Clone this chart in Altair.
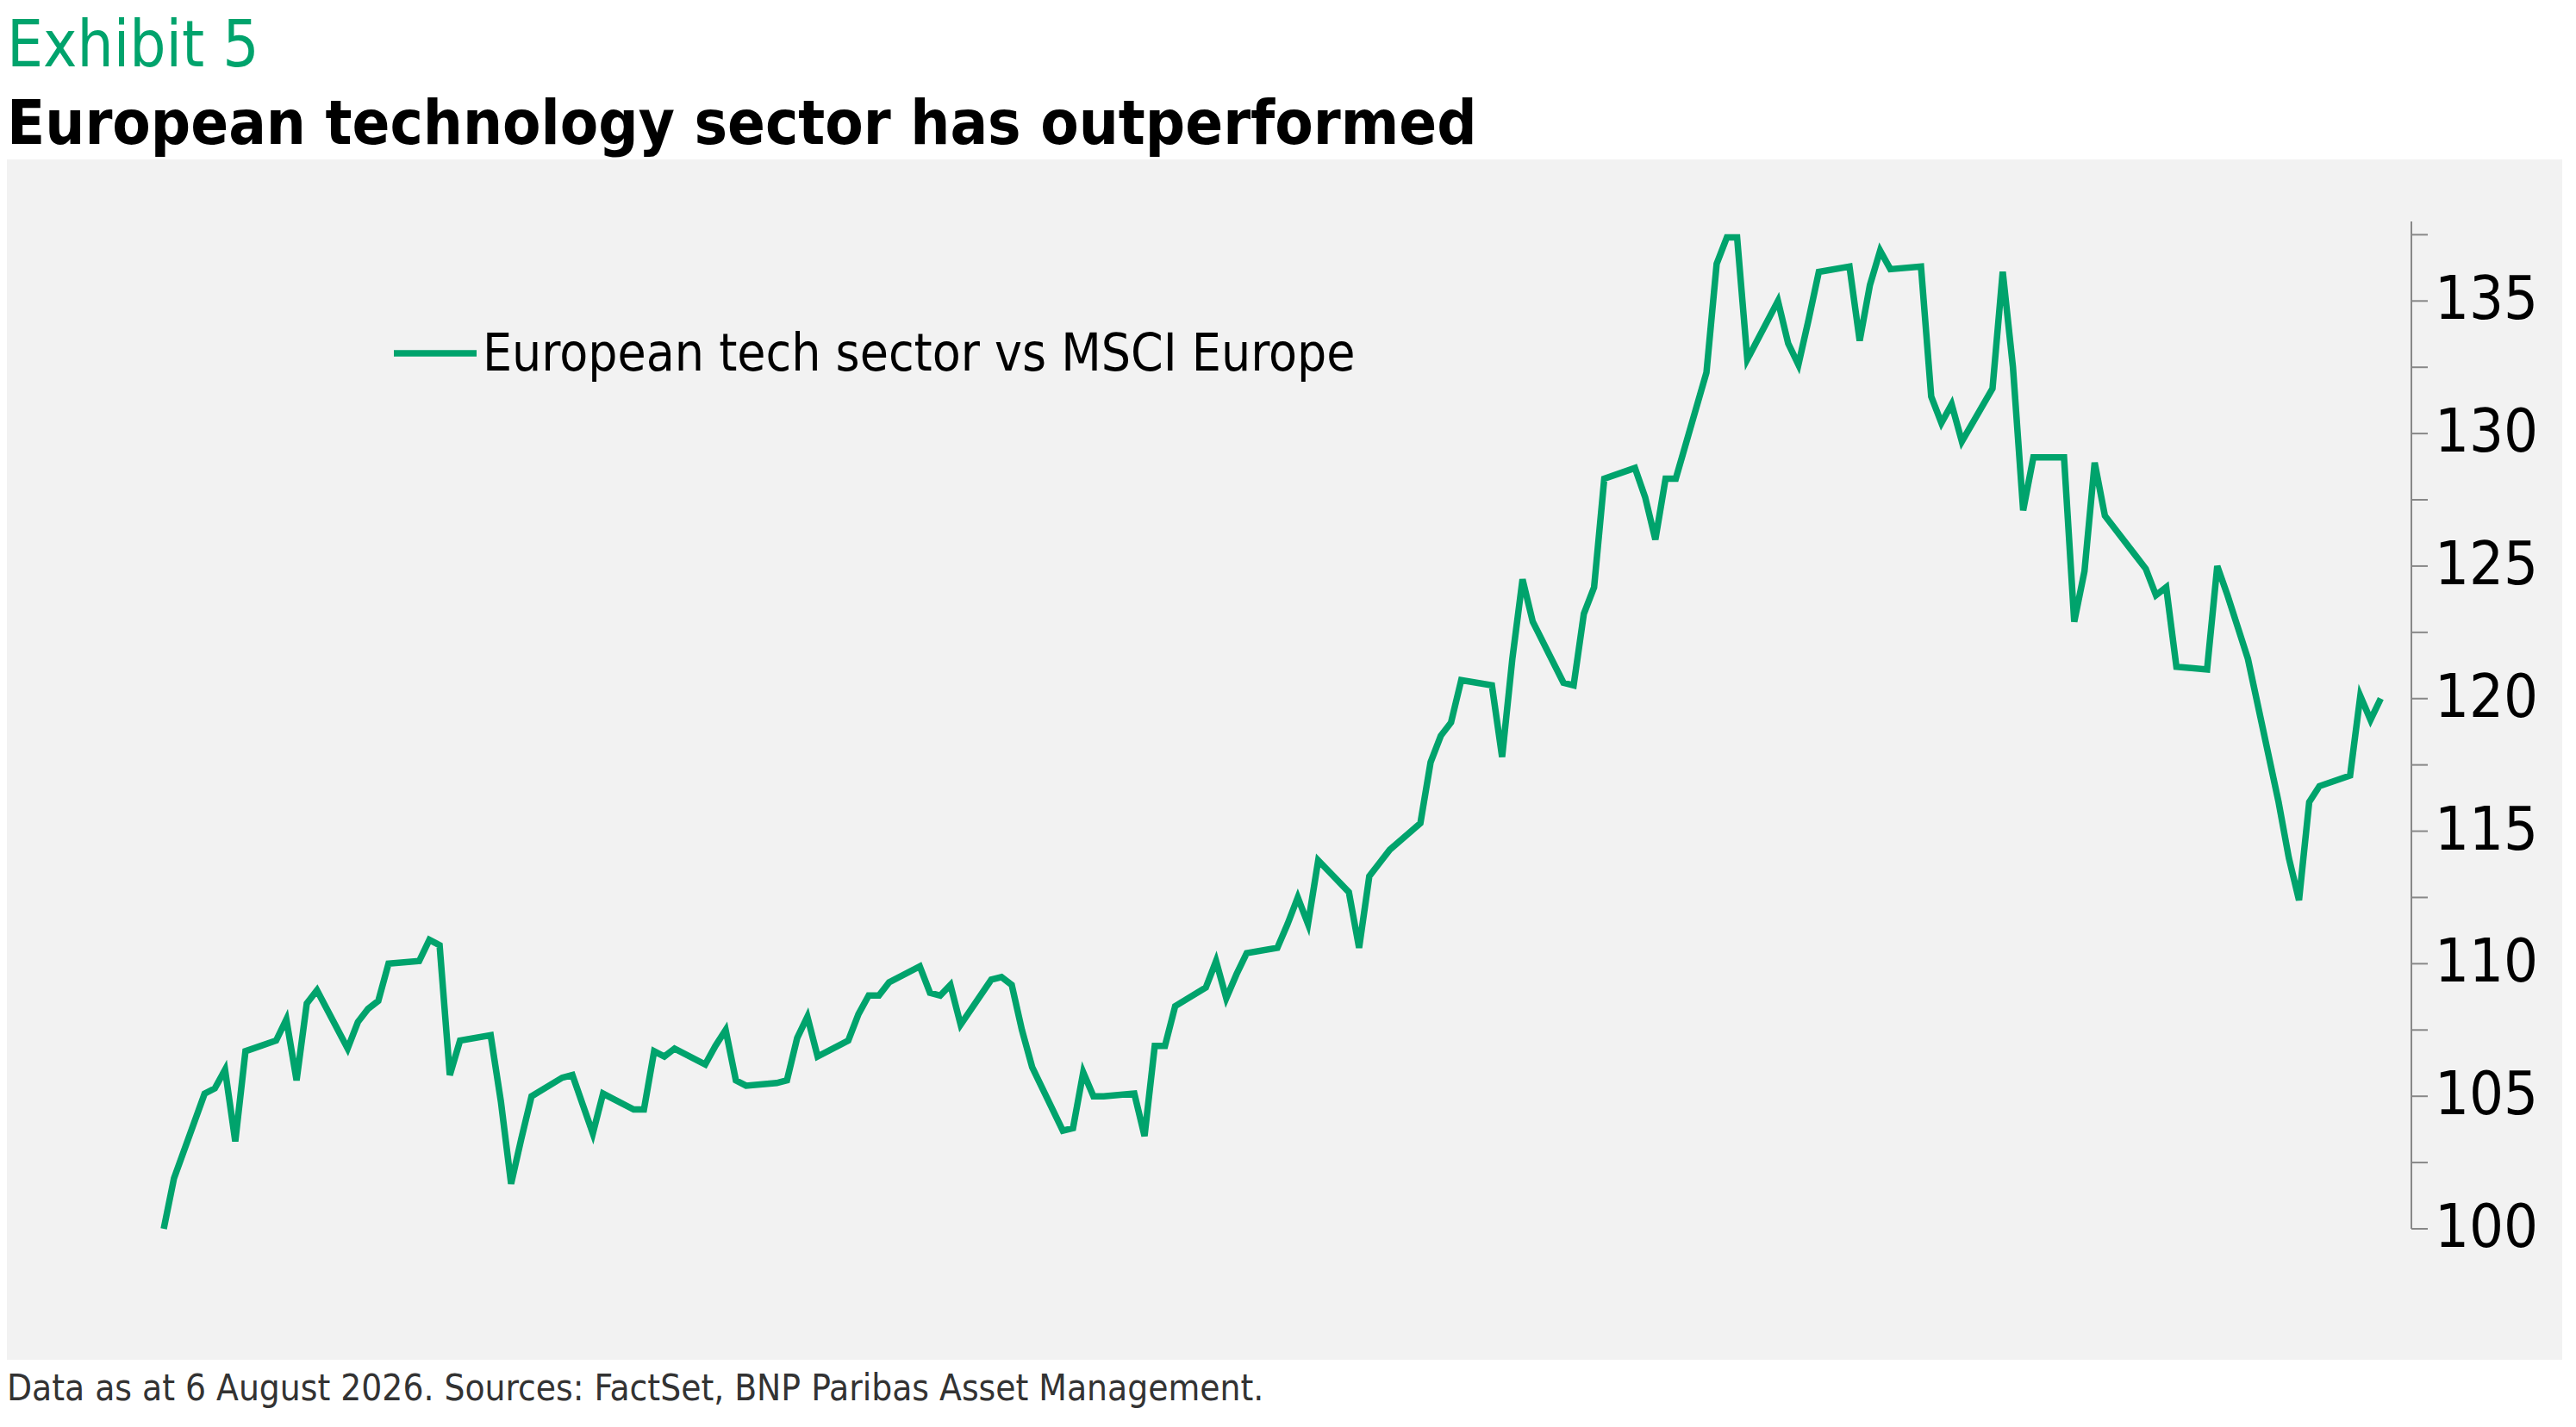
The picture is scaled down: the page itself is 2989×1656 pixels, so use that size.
import altair as alt
import pandas as pd

values = [100.0,101.9,105.1,105.3,106.0,103.3,106.7,107.1,107.9,105.6,108.5,109.0,106.8,107.8,108.3,108.6,110.0,110.1,110.9,110.7,105.8,107.1,107.3,
104.8,101.7,103.4,105.0,105.7,105.8,104.7,103.6,105.1,104.5,104.5,106.7,106.5,106.8,106.2,106.9,107.5,105.6,105.4,105.5,105.6,
107.2,108.0,106.5,107.1,108.1,108.8,108.8,109.3,109.9,108.9,108.8,109.2,107.7,109.4,109.5,109.2,107.5,106.1,103.7,103.8,105.9,105.0,
105.0,105.1,103.5,106.9,106.9,108.4,109.1,110.1,108.7,109.6,110.4,110.6,111.5,112.5,111.5,113.9,112.7,110.6,113.3,113.8,114.3,115.3,
117.6,118.6,119.1,120.7,120.5,117.8,121.5,124.5,122.9,120.6,120.5,123.2,124.2,128.3,128.7,127.6,126.0,128.3,128.3,132.3,136.4,137.4,
137.4,132.8,135.0,133.4,132.6,134.3,136.1,136.3,133.5,135.6,136.9,136.2,136.3,131.4,130.4,131.1,129.7,131.7,136.1,132.5,127.1,129.1,
129.1,122.9,124.8,128.9,126.9,125.4,124.9,123.9,124.2,121.2,121.1,125.0,123.9,122.7,121.5,116.1,114.0,112.4,116.1,116.7,117.1,120.1,
119.2,120.0]
dates = pd.bdate_range("2026-01-01", periods=len(values))
df = pd.DataFrame({"date": dates, "value": values})

series_name = "European tech sector vs MSCI Europe"
exhibit = "Exhibit 5"
title = "European technology sector has outperformed"
footer = "Data as at 6 August 2026. Sources: FactSet, BNP Paribas Asset Management."

FONT = "DejaVu Sans Condensed, DejaVu Sans, sans-serif"
GREEN = "#00A36C"
GRAY = "#888888"
W, H = 2608, 1169

tick_dates = []
for m in range(1, 9):
    tick_dates.append(alt.DateTime(year=2026, month=m, date=1))
    if m < 8:
        tick_dates.append(alt.DateTime(year=2026, month=m, date=16))
ytv = [100 + 2.5 * i for i in range(16)]
ydom = alt.Scale(domain=[100, 138], nice=False, zero=False)
xdom = alt.Scale(domain=[alt.DateTime(year=2026, month=1, date=1), alt.DateTime(year=2026, month=8, date=9)], nice=False)

base = alt.Chart(df)
bg = base.mark_rect(color="#F2F2F2", clip=False).encode(
    x=alt.value(-182), x2=alt.value(2791), y=alt.value(-72), y2=alt.value(1321))

line = base.mark_line(color=GREEN, strokeWidth=7.5).encode(
    x=alt.X("date:T", scale=xdom, axis=alt.Axis(values=tick_dates, grid=False,
        labelExpr="date(datum.value) == 1 ? timeFormat(datum.value, '%b %y') : ''",
        domainColor=GRAY, tickColor=GRAY, tickSize=19, tickWidth=2, domainWidth=2,
        labelFont=FONT, labelFontSize=70, labelColor="#000", labelPadding=12, title=None, labelFlush=False)),
    y=alt.Y("value:Q", scale=ydom, axis=alt.Axis(orient="left", values=ytv,
        labelExpr="datum.value % 5 == 0 ? datum.value : ''", grid=False,
        domainColor=GRAY, tickColor=GRAY, tickSize=19, tickWidth=2, domainWidth=2,
        labelFont=FONT, labelFontSize=70, labelColor="#000", labelPadding=8, title=None)))

ydf = pd.DataFrame({"v": ytv, "lab": [str(int(v)) if v % 5 == 0 else "" for v in ytv]})
rdomain = alt.Chart(pd.DataFrame({"k": [0]})).mark_rule(color=GRAY, strokeWidth=2).encode(
    x=alt.value(W), y=alt.value(0), y2=alt.value(H))
rticks = alt.Chart(ydf).mark_rule(color=GRAY, strokeWidth=2).encode(
    y=alt.Y("v:Q", scale=ydom), x=alt.value(W), x2=alt.value(W + 19))
rlabels = alt.Chart(ydf).mark_text(align="left", baseline="middle", font=FONT, fontSize=70, color="#000").encode(
    y=alt.Y("v:Q", scale=ydom), x=alt.value(W + 27), text="lab:N")

leg_line = alt.Chart(pd.DataFrame({"k": [0]})).mark_rule(color=GREEN, strokeWidth=7.5).encode(
    x=alt.value(267), x2=alt.value(363), y=alt.value(153))

def txt(s, x, y, size, color="#000", weight="normal"):
    return alt.Chart(pd.DataFrame({"t": [s]})).mark_text(
        align="left", baseline="alphabetic", font=FONT, fontSize=size, color=color, fontWeight=weight
    ).encode(text="t:N", x=alt.value(x), y=alt.value(y))

chart = alt.layer(
    bg, line, rdomain, rticks, rlabels, leg_line,
    txt(series_name, 370, 173, 60),
    txt(exhibit, -182, -180, 74, GREEN),
    txt(title, -182, -90, 72, "#000", "bold"),
    txt(footer, -182, 1368, 42, "#333"),
).properties(
    width=W, height=H, background="white",
    padding={"left": 182, "top": 249, "right": 175, "bottom": 214},
    autosize=alt.AutoSizeParams(type="none"),
).configure_view(stroke=None)

chart.save("out.html", embed_options={"renderer": "svg", "actions": False})
